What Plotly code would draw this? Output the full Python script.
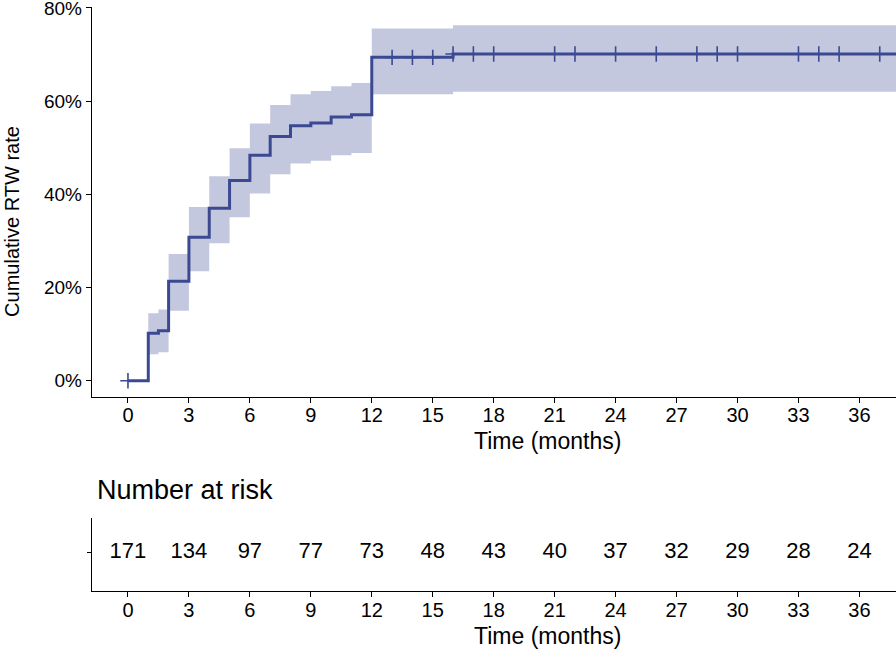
import numpy as np
import plotly.graph_objects as go

# ---- data ----
step_times = [0, 1, 1.5, 2, 3, 4, 5, 6, 7, 8, 9, 10, 11, 12, 16, 38]
cum_rate = [0, 10.2, 10.75, 21.35, 30.8, 37.0, 43.0, 48.4, 52.4, 54.7, 55.3, 56.6, 57.1, 69.4, 70.1, 70.1]
ci_upper = [0, 14.5, 15.3, 27.2, 37.3, 43.9, 49.9, 55.2, 59.2, 61.5, 62.2, 63.2, 63.9, 75.6, 76.3, 76.3]
ci_lower = [0, 5.7, 6.15, 15.05, 23.5, 29.5, 35.1, 40.2, 44.3, 46.6, 47.2, 48.4, 48.9, 61.5, 62.0, 62.0]
censor_times = [0, 13, 14, 15, 16, 17, 18, 21, 22, 24, 26, 28, 29, 30, 33, 34, 35, 37]

risk_times = [0, 3, 6, 9, 12, 15, 18, 21, 24, 27, 30, 33, 36]
at_risk = [171, 134, 97, 77, 73, 48, 43, 40, 37, 32, 29, 28, 24]

y_tickvals = [0, 20, 40, 60, 80]
y_ticktext = ["0%", "20%", "40%", "60%", "80%"]

LINE = "#3B4992"
BAND = "rgba(59,73,146,0.30)"
FONT = "Liberation Sans, Arial, Helvetica, sans-serif"

# censor mark heights from the step function
idx = np.searchsorted(step_times, censor_times, side="right") - 1
censor_y = [cum_rate[i] for i in idx]

fig = go.Figure()
fig.add_trace(go.Scatter(x=step_times, y=ci_upper, mode="lines", line=dict(width=0, shape="hv"),
                         hoverinfo="skip", showlegend=False, xaxis="x", yaxis="y"))
fig.add_trace(go.Scatter(x=step_times, y=ci_lower, mode="lines", line=dict(width=0, shape="hv"),
                         fill="tonexty", fillcolor=BAND, hoverinfo="skip", showlegend=False,
                         xaxis="x", yaxis="y"))
fig.add_trace(go.Scatter(x=step_times, y=cum_rate, mode="lines", line=dict(color=LINE, width=3, shape="hv"),
                         showlegend=False, xaxis="x", yaxis="y"))
fig.add_trace(go.Scatter(x=censor_times, y=censor_y, mode="markers",
                         marker=dict(symbol="cross-thin", size=11, line=dict(color=LINE, width=1.6)),
                         showlegend=False, xaxis="x", yaxis="y"))
fig.add_trace(go.Scatter(x=risk_times, y=[0] * len(risk_times), mode="text",
                         text=[str(v) for v in at_risk], textfont=dict(family=FONT, size=22, color="black"),
                         showlegend=False, xaxis="x2", yaxis="y2"))


def axis(fontsize, ticklen=5, standoff=0):
    return dict(showline=True, linecolor="black", linewidth=1.4, ticks="outside", ticklen=ticklen,
                tickwidth=1.2, tickcolor="black", showgrid=False, zeroline=False, automargin=False,
                ticklabeloverflow="allow", ticklabelstandoff=standoff,
                tickfont=dict(family=FONT, size=fontsize, color="black"))


fig.update_layout(
    template="none",
    width=896, height=653,
    margin=dict(l=92, r=0, t=7, b=62),
    plot_bgcolor="white", paper_bgcolor="white",
    xaxis=dict(domain=[0, 1], range=[-1.77, 37.8], tickvals=risk_times, anchor="y", **axis(20, standoff=-5)),
    yaxis=dict(domain=[0.3328, 1], range=[-3.4, 80.2], tickvals=y_tickvals, ticktext=y_ticktext,
               anchor="x", **axis(19)),
    xaxis2=dict(domain=[0, 1], range=[-1.77, 37.8], tickvals=risk_times, anchor="y2", **axis(20, standoff=-4)),
    yaxis2=dict(domain=[0, 0.1250], range=[-1.05, 0.95], tickvals=[0], showticklabels=False,
                anchor="x2", **axis(18, ticklen=4)),
    annotations=[
        dict(text="Cumulative RTW rate", xref="paper", yref="paper", x=-0.0995, y=0.632,
             textangle=-90, showarrow=False, font=dict(family=FONT, size=20, color="black"),
             xanchor="center", yanchor="middle"),
        dict(text="Time (months)", xref="paper", yref="paper", x=0.567, y=0.2577,
             showarrow=False, font=dict(family=FONT, size=23, color="black"),
             xanchor="center", yanchor="middle"),
        dict(text="Time (months)", xref="paper", yref="paper", x=0.567, y=-0.077,
             showarrow=False, font=dict(family=FONT, size=23, color="black"),
             xanchor="center", yanchor="middle"),
        dict(text="Number at risk", xref="paper", yref="paper", x=0.0037, y=0.1724,
             showarrow=False, font=dict(family=FONT, size=27, color="black"),
             xanchor="left", yanchor="middle"),
    ],
)

fig.write_html("out.html", config={"displayModeBar": False},
               post_script="document.body.style.margin='0';document.body.style.overflow='hidden';")
